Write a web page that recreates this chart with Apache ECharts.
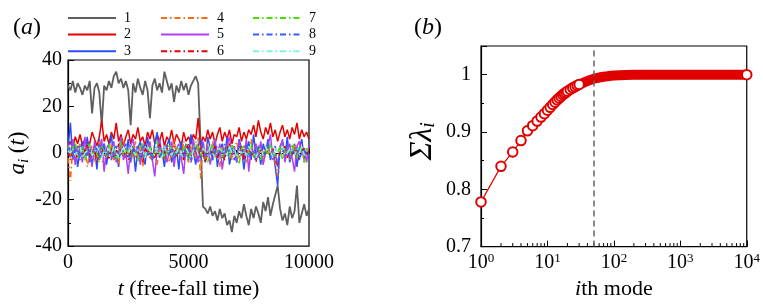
<!DOCTYPE html>
<html><head><meta charset="utf-8">
<script src="https://cdn.jsdelivr.net/npm/echarts@6/dist/echarts.min.js"></script>
<style>html,body{margin:0;padding:0;background:#fff}#c{width:763px;height:305px}</style>
</head><body><div id="c"></div>
<script>
// ---------- Panel (a): time coefficients a_i(t), sampled every T_STEP ----------
const T_STEP = 100;
const modeNames = ['1','2','3','4','5','6','7','8','9'];
const mode1 = [29,27,31,26,30,28,25,29,27,31, 17,28,30,26,12,29,27,31,28,33, 35,30,32,28,31,27,12,30,26,32, 28,25,31,27,15,29,32,27,30,26, 35,31,27,30,22,29,26,31,27,30, 25,29,31,33,30,5,-23,-24,-26,-23, -27,-25,-29,-24,-28,-26,-31,-29,-34,-27, -30,-25,-28,-22,-27,-31,-24,-28,-23,-26, -30,-21,-25,-19,-27,-22,-18,-14,-24,-29, -26,-31,-23,-28,-25,-14,-30,-26,-22,-27, -24];
const mode2 = [3,5,2,7,4,8,3,6,5,4, 9,6,3,7,14,5,8,4,9,6, 13,5,8,3,7,10,4,8,6,11, 5,7,3,9,6,10,4,8,5,9, 3,7,5,10,4,8,6,3,9,5, 7,4,8,6,15,3,7,5,10,6, 9,4,8,11,5,9,6,10,4,8, 7,11,5,9,6,10,8,12,7,14, 9,6,11,8,13,7,10,5,9,12, 7,10,6,11,8,13,6,10,7,9, 6];
const mode3 = [2,13,-3,4,-6,1,5,-2,7,-4, 0,3,-7,6,-1,4,-5,2,8,-3, 1,-6,5,0,-2,6,-4,3,-8,2, 5,-1,-5,7,0,-3,4,9,-2,1, -6,3,6,-4,0,2,-7,5,-1,4, -3,8,1,-5,3,6,0,-4,7,2, -3,5,-6,1,4,-2,7,-5,0,3, -4,6,2,-7,1,5,-3,8,-1,2, -5,4,0,6,-3,1,-6,-14,3,5, -2,7,-4,0,4,-6,2,6,-3,1, -2];
const mode4 = [-2,-12,3,-5,1,4,-3,2,-6,0, 3,-4,1,5,-2,-7,2,0,4,-3, 1,-5,3,6,-1,2,-4,0,5,-2, 3,-6,1,4,-3,0,2,-5,3,1, -2,4,-4,0,6,-1,2,-3,5,0, -4,3,1,-2,7,-11,2,-3,4,0, 5,-2,1,-6,3,0,-1,4,-3,2, 5,-2,0,3,-4,1,6,-1,-3,2, 4,-5,0,3,-2,1,-4,-10,2,5, -1,3,-3,0,4,-2,1,3,-4,2, 0];
const mode5 = [4,-2,6,-5,3,1,-4,7,-1,2, -6,5,0,-3,6,-8,2,4,-2,5, -4,1,7,-3,0,-9,3,6,-1,2, -5,4,-2,1,5,-3,-10,2,6,-1, 3,-4,0,5,-6,2,4,-2,-9,3, 1,-3,6,0,-4,2,5,-1,3,-5, 1,6,-2,4,-7,0,3,7,-1,2, -4,5,1,-3,6,-8,2,0,4,-2, 5,-5,1,3,8,-3,0,-6,2,6, -4,1,4,-2,-8,3,5,-1,2,-4, 3];
const mode6 = [1,-3,2,0,-2,3,-1,1,4,-2, 0,2,-4,1,3,-1,0,-3,2,1, -2,4,0,-1,2,-3,1,3,-2,0, 1,-4,2,0,3,-1,-2,1,4,0, -3,2,1,-1,3,-2,0,2,-3,1, 4,-1,0,2,-2,3,1,-4,0,2, -1,3,-2,1,0,-3,2,4,-1,1, -2,0,3,-3,1,2,-1,0,-4,2, 1,-2,3,0,-1,2,-3,-5,1,0, 3,-2,1,-1,2,0,-3,1,2,-1, 1];
const mode7 = [3,-1,2,5,-2,0,3,-3,1,4, -1,2,0,-4,3,1,-2,4,0,2, -3,1,5,-1,2,0,-2,3,1,-4, 2,4,-1,0,3,-2,1,5,-1,2, -3,0,4,1,-2,3,0,-1,2,4, -3,1,0,5,2,-2,3,1,-4,0, 4,-1,2,0,-3,3,1,-2,4,0, 1,-5,2,3,-1,0,4,-2,1,3, -3,0,2,-1,4,1,-2,0,3,-3, 2,1,-1,4,0,-2,3,1,-4,2, 0];
const mode8 = [0,4,-2,1,3,-3,2,0,-1,3, -4,1,2,-2,0,4,-1,1,-3,2, 3,-2,0,1,4,-1,-3,2,0,3, -2,1,4,-1,0,-3,2,1,3,-2, 0,4,-1,2,-3,1,0,3,-2,1, 2,-4,0,3,1,-2,4,0,-1,2, -3,1,3,0,-2,4,-1,1,2,-3, 0,3,-1,2,4,-2,0,1,-3,3, 2,-1,0,4,-2,1,3,-6,0,2, -1,4,-2,1,0,3,-3,2,1,-1, 0];
const mode9 = [1,0,2,-1,1,3,-2,0,1,2, -1,0,3,1,-2,1,0,2,-1,3, 0,-2,1,2,0,-1,3,1,-1,2, 0,1,-2,3,1,0,-1,2,1,-2, 3,0,1,-1,2,0,3,-1,1,2, 0,-2,1,3,-1,0,2,1,-1,3, 0,-2,1,2,0,1,-1,3,0,2, -2,1,0,2,-1,3,1,0,-2,1, 2,-1,3,0,1,-2,2,0,1,3, -1,0,2,1,-1,2,0,3,-1,1, 0];
const xTicksA = [0, 5000, 10000];
const yTicksA = [-40, -20, 0, 20, 40];

// ---------- Panel (b): cumulative eigenvalue fraction ----------
const modeIdx   = [1,2,3,4,5,6,7,8,9,10,11,12,13,14,15,16,17,18,19,20,22,24,26,28,30,35,40,45,50,60,70,80,90,100,150,200,300,500,1000,10000];
const cumLambda = [0.778,0.840,0.865,0.885,0.902,0.911,0.919,0.926,0.932,0.938,0.943,0.948,0.952,0.956,0.959,0.962,0.965,0.967,0.969,0.971,0.974,0.977,0.979,0.981,0.983,0.986,0.989,0.991,0.993,0.995,0.9963,0.9972,0.998,0.9985,0.9993,0.9997,1.0,1.0,1.0,1.0];
const cutoffMode = 50;
const yTicksB = [0.7, 0.8, 0.9, 1.0];
const decadesB = [0, 1, 2, 3];            // decades 10^0 .. 10^3 get minor ticks
const minorMultipliers = [2,3,4,5,6,7,8,9];

const FONT = 'Liberation Serif';
const colors = ['#5f5f5f','#e60000','#2a4dff','#ff6a10','#b040f0','#e60000','#44e000','#3a5cff','#7ff5dc'];
const dashDot = [6,3,1.5,3];
const styles = ['solid','solid','solid',dashDot,'solid',dashDot,dashDot,dashDot,dashDot];
const modes = [mode1,mode2,mode3,mode4,mode5,mode6,mode7,mode8,mode9];

const chart = echarts.init(document.getElementById('c'), null, {renderer:'canvas'});

const seriesA = modes.map((arr, k) => ({
  name: modeNames[k], type: 'line', xAxisIndex: 0, yAxisIndex: 0,
  symbol: 'none', showSymbol: false, silent: true, animation: false,
  data: arr.map((v, j) => [j * T_STEP, v]),
  lineStyle: {color: colors[k], width: k === 0 ? 1.8 : 1.5, type: styles[k]},
  itemStyle: {color: colors[k]},
  z: 2 + k
}));

const minorLogTicks = [];
decadesB.forEach(d => minorMultipliers.forEach(m => minorLogTicks.push(m * Math.pow(10, d))));

const lbl = (size, extra) => Object.assign({fontFamily: FONT, fontSize: size, color: '#000', fontWeight: 'normal'}, extra || {});

const option = {
  animation: false,
  backgroundColor: '#fff',
  textStyle: {fontFamily: FONT, color: '#000'},
  title: [
    {text: '({i|a})', left: 8, top: 11, textStyle: lbl(24, {rich: {i: lbl(24, {fontStyle: 'italic'})}})},
    {text: '({i|b})', left: 409, top: 11, textStyle: lbl(24, {rich: {i: lbl(24, {fontStyle: 'italic'})}})}
  ],
  legend: [0,1,2].map(c => ({
    data: modeNames.slice(c*3, c*3+3),
    orient: 'vertical', left: [62,155,247][c], top: 6,
    itemWidth: 48, itemHeight: 14, itemGap: 2.6,
    itemStyle: {opacity: 0},
    textStyle: lbl(14, {padding: [0,0,0,3]}),
    selectedMode: false
  })),
  grid: [
    {left: 68, top: 60, width: 241, height: 190, show: true, borderColor: '#000', borderWidth: 1.2, backgroundColor: 'transparent'},
    {left: 481, top: 46, width: 266, height: 204, show: true, borderColor: '#000', borderWidth: 1.2, backgroundColor: 'transparent'}
  ],
  xAxis: [
    {gridIndex: 0, type: 'value', min: xTicksA[0], max: xTicksA[xTicksA.length-1], interval: xTicksA[1]-xTicksA[0],
     axisLine: {lineStyle: {color: '#000', width: 1.2}},
     axisTick: {inside: true, length: 6, lineStyle: {color:'#000'}},
     minorTick: {show: true, splitNumber: 5, length: 3, lineStyle: {color:'#000'}},
     splitLine: {show: false},
     axisLabel: lbl(20, {margin: 7, formatter: v => String(v)}),
     name: '{i|t} (free-fall time)', nameLocation: 'middle', nameGap: 26,
     nameTextStyle: lbl(22, {rich: {i: lbl(22, {fontStyle: 'italic'})}})},
    {gridIndex: 1, type: 'log', logBase: 10, min: 1, max: 10000,
     axisLine: {lineStyle: {color: '#000', width: 1.2}},
     axisTick: {inside: true, length: 6, lineStyle: {color:'#000'}},
     minorTick: {show: false},
     splitLine: {show: false},
     axisLabel: lbl(20, {margin: 5,
       formatter: v => '{b|10}{s|' + Math.round(Math.log10(v)) + '}',
       rich: {b: lbl(20), s: lbl(13, {padding: [0,0,10,0]})}}),
     name: '{i|i}th mode', nameLocation: 'middle', nameGap: 27,
     nameTextStyle: lbl(22, {rich: {i: lbl(22, {fontStyle: 'italic'})}})}
  ],
  yAxis: [
    {gridIndex: 0, type: 'value', min: yTicksA[0], max: yTicksA[yTicksA.length-1], interval: yTicksA[1]-yTicksA[0],
     axisLine: {lineStyle: {color: '#000', width: 1.2}},
     axisTick: {inside: true, length: 6, lineStyle: {color:'#000'}},
     minorTick: {show: true, splitNumber: 2, length: 3, lineStyle: {color:'#000'}},
     splitLine: {show: false},
     axisLabel: lbl(20, {margin: 6}),
     name: '{i|a}{s|i} ({i|t})', nameLocation: 'middle', nameGap: 30, nameRotate: 90,
     nameTextStyle: lbl(23, {rich: {i: lbl(23, {fontStyle: 'italic'}), s: lbl(15, {fontStyle: 'italic', padding: [11,0,0,0]})}})},
    {gridIndex: 1, type: 'value', min: yTicksB[0], max: 1.05, interval: 0.1,
     axisLine: {lineStyle: {color: '#000', width: 1.2}},
     axisTick: {inside: true, length: 6, lineStyle: {color:'#000'}},
     minorTick: {show: true, splitNumber: 2, length: 3, lineStyle: {color:'#000'}},
     splitLine: {show: false},
     axisLabel: lbl(20, {margin: 10, showMaxLabel: false, formatter: v => String(+v.toFixed(2))}),
     name: '{g|Σλ}{s|i}', nameLocation: 'middle', nameGap: 42, nameRotate: 90,
     nameTextStyle: lbl(30, {padding: [0,0,0,10], rich: {g: lbl(32, {fontStyle: 'italic'}), s: lbl(20, {fontStyle: 'italic', padding: [13,0,0,0]})}})}
  ],
  series: seriesA.concat([
    {name: 'minorLogTicks', type: 'custom', xAxisIndex: 1, yAxisIndex: 1, silent: true, clip: false,
     data: minorLogTicks.map(v => [v, yTicksB[0]]),
     renderItem: (params, api) => {
       const p = api.coord([api.value(0), api.value(1)]);
       return {type: 'line', shape: {x1: p[0], y1: p[1], x2: p[0], y2: p[1] - 3.5}, style: {stroke: '#000', lineWidth: 1}};
     }, z: 1},
    {name: 'band', type: 'line', xAxisIndex: 1, yAxisIndex: 1, symbol: 'none', silent: true,
     data: modeIdx.map((x, k) => [x, cumLambda[k]]).filter(p => p[0] >= 26),
     lineStyle: {color: '#e00000', width: 10}, z: 2},
    {name: 'cum', type: 'line', xAxisIndex: 1, yAxisIndex: 1, silent: true,
     symbol: 'emptyCircle', symbolSize: 9.5, showAllSymbol: true,
     data: modeIdx.map((x, k) => ({value: [x, cumLambda[k]], symbol: (x <= 30 || x === modeIdx[modeIdx.length-1]) ? 'emptyCircle' : 'none'})),
     lineStyle: {color: '#e00000', width: 1.2},
     itemStyle: {color: '#e00000', borderColor: '#e00000', borderWidth: 1.3},
     markLine: {silent: true, symbol: ['none','none'], label: {show: false},
       lineStyle: {color: '#666', type: [6,4], width: 1.5},
       data: [{xAxis: cutoffMode}]},
     z: 3}
  ])
};
chart.setOption(option);
</script>
</body></html>
